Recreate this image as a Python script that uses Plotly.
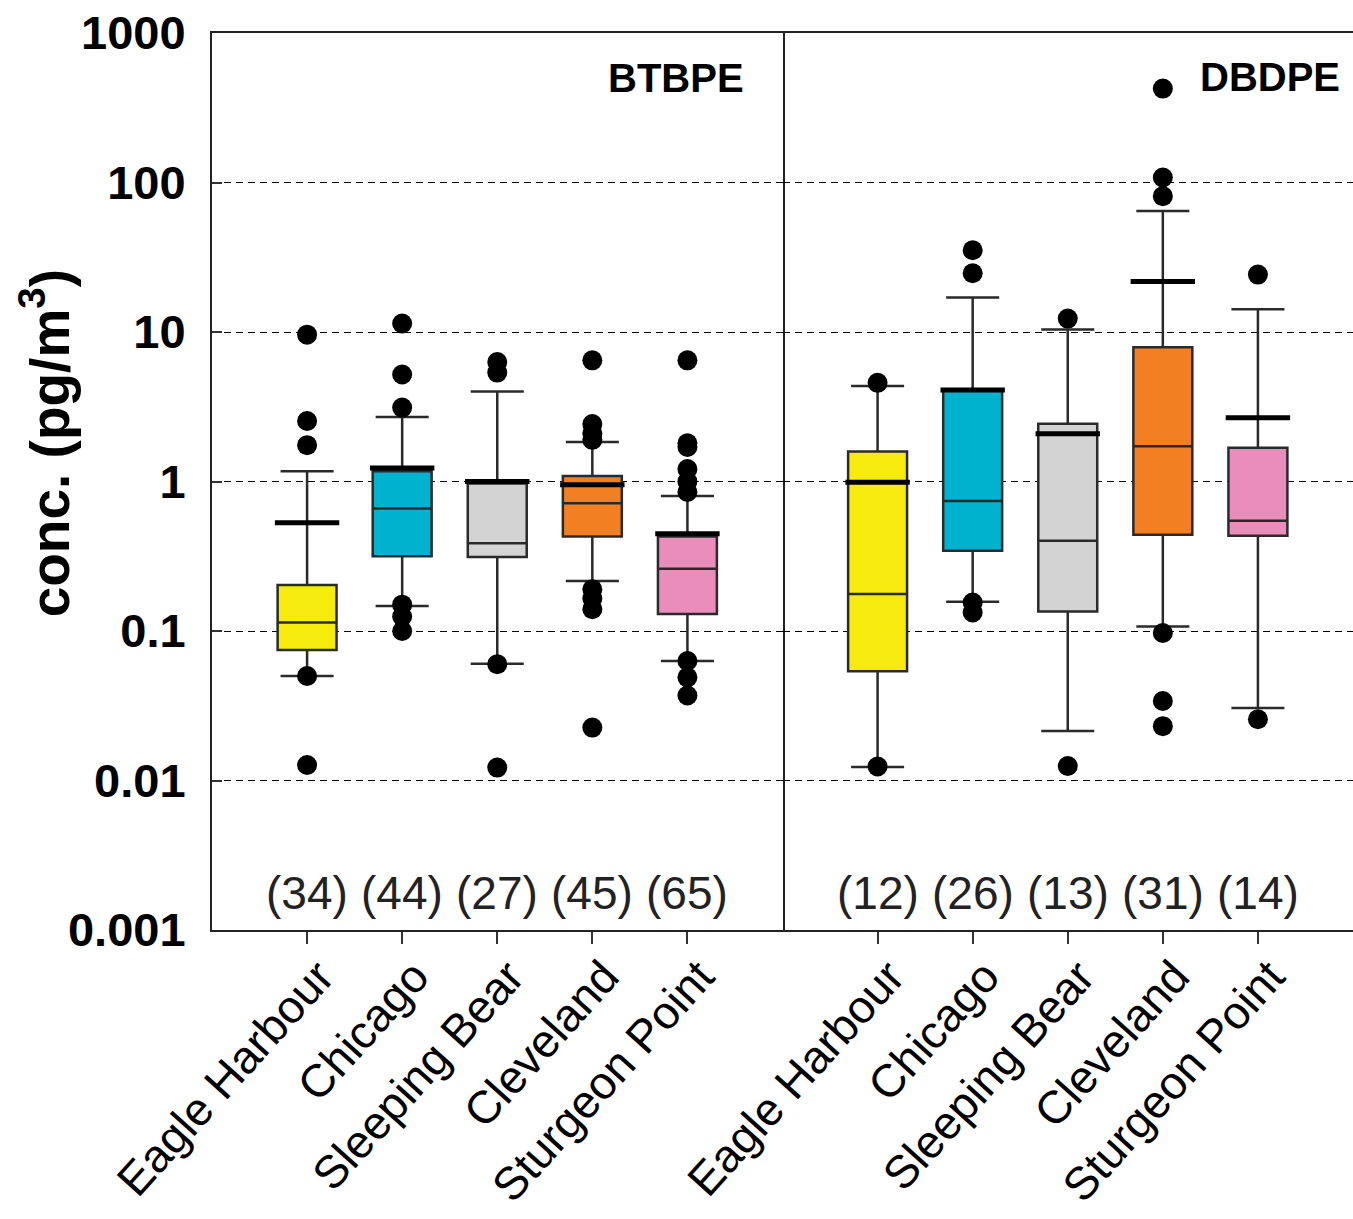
import plotly.graph_objects as go
from plotly.subplots import make_subplots

sites = ["Eagle Harbour", "Chicago", "Sleeping Bear", "Cleveland", "Sturgeon Point"]
box_colors = ["#F5EB0C", "#00B2CE", "#D3D3D3", "#F28023", "#E98DBB"]

# BTBPE
btbpe_q1 = [0.0746, 0.316, 0.313, 0.428, 0.13]
btbpe_median = [0.114, 0.66, 0.386, 0.715, 0.261]
btbpe_q3 = [0.203, 1.17, 0.97, 1.09, 0.428]
btbpe_low = [0.050, 0.147, 0.0605, 0.216, 0.063]
btbpe_high = [1.17, 2.7, 4.0, 1.84, 0.80]
btbpe_mean = [0.53, 1.23, 1.0, 0.95, 0.448]
btbpe_n = [34, 44, 27, 45, 65]
btbpe_outliers = [
    [9.6, 2.54, 1.75, 0.050, 0.0127],
    [11.4, 5.2, 3.12, 0.15, 0.125, 0.10],
    [6.3, 5.35, 0.06, 0.0122],
    [6.46, 2.42, 2.1, 1.9, 0.19, 0.165, 0.14, 0.0226],
    [6.46, 1.8, 1.7, 1.21, 1.0, 0.85, 0.063, 0.049, 0.037],
]

# DBDPE
dbdpe_q1 = [0.0537, 0.344, 0.135, 0.44, 0.433]
dbdpe_median = [0.177, 0.74, 0.402, 1.72, 0.547]
dbdpe_q3 = [1.59, 4.1, 2.43, 7.9, 1.68]
dbdpe_low = [0.0123, 0.157, 0.0214, 0.107, 0.0305]
dbdpe_high = [4.35, 17.0, 10.4, 64.4, 14.2]
dbdpe_mean = [0.99, 4.1, 2.09, 21.8, 2.67]
dbdpe_n = [12, 26, 13, 31, 14]
dbdpe_outliers = [
    [4.57, 0.0124],
    [35.2, 24.7, 0.155, 0.133],
    [12.3, 0.0125],
    [425, 108, 81, 0.097, 0.034, 0.0231],
    [24.2, 0.0257],
]

panels = [
    ("BTBPE", btbpe_q1, btbpe_median, btbpe_q3, btbpe_low, btbpe_high, btbpe_mean, btbpe_n, btbpe_outliers),
    ("DBDPE", dbdpe_q1, dbdpe_median, dbdpe_q3, dbdpe_low, dbdpe_high, dbdpe_mean, dbdpe_n, dbdpe_outliers),
]

FONT = "Liberation Sans, Arial, sans-serif"

fig = make_subplots(rows=1, cols=2, shared_yaxes=True, horizontal_spacing=0)

for col, (name, q1, med, q3, lo, hi, mean, n, outl) in enumerate(panels, start=1):
    for i, site in enumerate(sites):
        fig.add_trace(go.Box(
            x=[site], q1=[q1[i]], median=[med[i]], q3=[q3[i]],
            lowerfence=[lo[i]], upperfence=[hi[i]],
            fillcolor=box_colors[i], line=dict(color="#2a2a2a", width=2.5),
            width=0.62, whiskerwidth=0.9, showlegend=False, hoverinfo="skip",
        ), row=1, col=col)
    # mean lines
    fig.add_trace(go.Scatter(
        x=sites, y=mean, mode="markers", showlegend=False, hoverinfo="skip",
        marker=dict(symbol="line-ew", size=46, line=dict(width=5, color="black")),
    ), row=1, col=col)
    # outliers
    ox, oy = [], []
    for i, site in enumerate(sites):
        for v in outl[i]:
            ox.append(site)
            oy.append(v)
    fig.add_trace(go.Scatter(
        x=ox, y=oy, mode="markers", showlegend=False, hoverinfo="skip",
        marker=dict(symbol="circle", size=20, color="black"),
    ), row=1, col=col)
    # sample counts
    xref = "x" if col == 1 else "x2"
    for i, site in enumerate(sites):
        fig.add_annotation(x=site, xref=xref, y=0.041, yref="paper",
                           text=f"({n[i]})", showarrow=False,
                           font=dict(family=FONT, size=46, color="#222222"),
                           xanchor="center", yanchor="middle")

# panel titles
fig.add_annotation(x=0.936, xref="x domain", y=0.95, yref="y domain", text="BTBPE",
                   showarrow=False, xanchor="right", yanchor="middle",
                   font=dict(family=FONT, size=40, color="black", weight="bold"))
fig.add_annotation(x=0.98, xref="x2 domain", y=0.951, yref="y2 domain", text="DBDPE",
                   showarrow=False, xanchor="right", yanchor="middle",
                   font=dict(family=FONT, size=40, color="black", weight="bold"))

# y title
fig.add_annotation(x=-0.146, xref="paper", y=0.543, yref="paper",
                   text="conc. (pg/m<sup>3</sup>)", textangle=-90, showarrow=False,
                   xanchor="center", yanchor="middle",
                   font=dict(family=FONT, size=55, color="black", weight="bold"))

tickvals = [0.001, 0.01, 0.1, 1, 10, 100, 1000]
ticktext = ["0.001", "0.01", "0.1", "1", "10", "100", "1000"]

common_x = dict(
    type="category", categoryorder="array", categoryarray=sites, range=[-1, 5],
    showline=True, linecolor="#222222", linewidth=2, mirror=True,
    ticks="outside", ticklen=12, tickwidth=2, tickcolor="#333333",
    tickangle=-48, tickfont=dict(family=FONT, size=46, color="black"),
    ticklabelstandoff=-13, ticklabelshift=12,
    showgrid=False, zeroline=False, automargin=False,
)
fig.update_xaxes(**common_x)

fig.update_yaxes(
    type="log", range=[-3, 3], tickvals=tickvals, ticktext=ticktext,
    showgrid=True, gridcolor="black", gridwidth=1.2, griddash="7px,5px",
    zeroline=False, automargin=False,
)
fig.update_yaxes(
    showline=True, linecolor="#222222", linewidth=2, mirror=True,
    ticks="inside", ticklen=10, tickwidth=2, tickcolor="#333333",
    tickfont=dict(family=FONT, size=47, color="black", weight="bold"),
    ticklabelstandoff=15,
    row=1, col=1,
)
fig.update_yaxes(showline=False, ticks="", showticklabels=False, row=1, col=2)

fig.update_layout(
    width=1353, height=1219,
    margin=dict(l=212, r=0, t=33, b=289),
    paper_bgcolor="white", plot_bgcolor="white",
    boxmode="overlay",
    font=dict(family=FONT),
)

fig.write_html("out.html", config={"displayModeBar": False},
               post_script="document.body.style.margin='0px';")
